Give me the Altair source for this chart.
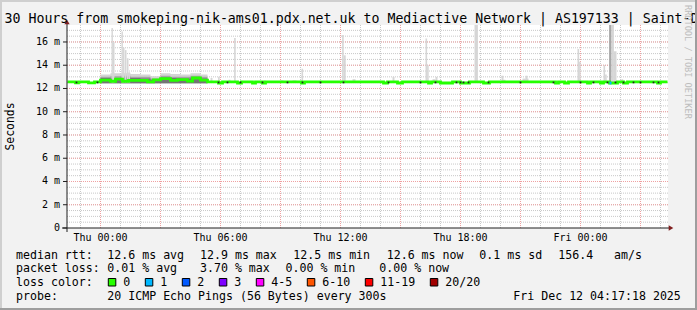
import altair as alt
import pandas as pd

FONT = "DejaVu Sans Mono"

# ---------------- data ----------------
# time axis: hours relative to Thu 00:00 (Dec 11 2025); y axis: milliseconds
x_domain = [-1.675, 28.375]
y_domain = [0, 17.46]

x_tick_hours = [0, 6, 12, 18, 24]
x_tick_labels = ["Thu 00:00", "Thu 06:00", "Thu 12:00", "Thu 18:00", "Fri 00:00"]
y_tick_ms = [0, 2, 4, 6, 8, 10, 12, 14, 16]
y_tick_labels = ["0\u00a0\u00a0", "2 m", "4 m", "6 m", "8 m", "10 m", "12 m", "14 m", "16 m"]
minor_hours = list(range(-1, 29))
major_hours = list(range(0, 29, 3))
minor_ms = [0.5 * i for i in range(1, 35)]
major_ms = [2, 4, 6, 8, 10, 12, 14, 16]

median_t = [-1.65, -1.25, -1.1, -0.6, -0.3, 0.0, 0.5, 0.75, 1.1, 1.4, 2.35, 2.65, 3.0, 3.5,
            3.85, 4.35, 4.6, 5.0, 5.35, 5.9, 6.1, 6.85, 7.05, 7.6, 7.75, 8.1, 8.25, 10.05,
            10.2, 14.15, 14.35, 14.85, 15.1, 16.4, 16.55, 17.0, 17.6, 18.0, 18.45, 19.15,
            19.45, 22.75, 22.9, 23.2, 23.4, 24.35, 24.5, 25.0, 25.15, 25.45, 25.85, 26.15,
            26.35, 27.85, 28.0, 28.35]
median_ms = [12.56, 12.48, 12.56, 12.48, 12.56, 12.72, 12.62, 12.80, 12.62, 12.70, 12.57, 12.74,
             12.84, 12.70, 12.77, 12.63, 12.90, 12.72, 12.56, 12.47, 12.56, 12.47, 12.56, 12.47,
             12.56, 12.47, 12.56, 12.47, 12.56, 12.47, 12.56, 12.47, 12.56, 12.47, 12.56, 12.47,
             12.56, 12.47, 12.56, 12.47, 12.56, 12.47, 12.56, 12.47, 12.56, 12.47, 12.56, 12.47,
             12.56, 12.47, 12.56, 12.47, 12.56, 12.47, 12.56, 12.56]

loss_t0 = [25.45]
loss_t1 = [25.55]
loss_ms = [12.47]
loss_level = [1]

band_t = [0.0, 0.5, 1.0, 1.5, 2.0, 2.5, 3.0, 3.5, 4.0, 4.5, 5.0, 5.35]
band_lo = [12.45, 12.45, 12.45, 12.45, 12.45, 12.45, 12.45, 12.45, 12.45, 12.45, 12.45, 12.45]
band_hi = [13.2, 13.3, 13.3, 13.25, 13.2, 13.05, 13.3, 13.25, 13.2, 13.3, 13.2, 13.2]
band_mid = [13.0, 13.05, 13.1, 13.0, 13.0, 12.85, 13.1, 13.0, 13.0, 13.1, 13.0, 13.0]
band_dark = [12.9, 12.85, 12.95, 12.9, 12.85, 12.75, 12.95, 12.9, 12.85, 12.95, 12.85, 12.85]

spike_t0 = [0.55, 0.62, 1.05, 1.12, 1.22, 1.32, 1.40, 5.88, 6.68, 10.05, 12.08, 12.16, 14.60,
            16.25, 16.33, 16.75, 18.70, 20.05, 21.25, 23.85, 23.93, 25.15, 25.23, 25.43, 25.55,
            25.67, 26.05, 5.5, 6.4, 8.15, 9.0, 9.6, 12.6, 13.65, 16.6, 20.1, 21.1, 24.85, 26.0]
spike_t1 = [0.62, 0.70, 1.12, 1.20, 1.30, 1.40, 1.48, 5.96, 6.76, 10.13, 12.16, 12.26, 14.70,
            16.33, 16.41, 16.85, 18.87, 20.15, 21.35, 23.93, 24.01, 25.23, 25.31, 25.55, 25.67,
            25.80, 26.12, 5.6, 6.5, 8.25, 9.15, 9.8, 12.75, 14.1, 16.75, 20.25, 21.4, 25.35, 26.15]
spike_top = [17.2, 16.0, 16.9, 15.5, 15.3, 14.6, 13.4, 13.0, 16.35, 13.7, 16.6, 14.85, 13.0,
             16.3, 14.0, 13.0, 17.46, 13.1, 13.1, 15.4, 14.3, 14.0, 13.2, 17.46, 17.46,
             15.2, 12.8, 12.9, 12.75, 12.7, 12.7, 12.7, 12.8, 12.65, 12.8, 12.75, 12.85, 12.65, 12.75]
spike_shade = [0] * 23 + [1] + [0] * 15

dot_t = [-1.2, -0.15, 5.9, 6.35, 7.0, 8.1, 9.35, 10.1, 11.0, 12.15, 14.4, 16.0, 16.75, 17.8,
         18.0, 18.15, 18.4, 19.4, 21.0, 22.65, 24.0, 24.65, 25.35, 25.75, 26.15, 26.65, 27.0,
         27.65, 27.9]

title_text = "30 Hours from smokeping-nik-ams01.pdx.net.uk to Mediactive Network | AS197133 | Saint-Denis"
rtt_stats = [12.6, 12.9, 12.5, 12.6]
rtt_sd = 0.1
am_s = 156.4
loss_stats = [0.01, 3.70, 0.00, 0.00]
loss_labels = ["0", "1", "2", "3", "4-5", "6-10", "11-19", "20/20"]
loss_colors = ["#26ff00", "#00b8ff", "#0059ff", "#7e00ff", "#ff00ff", "#ff5500", "#ff0000", "#a10000"]
probe_text = "20 ICMP Echo Pings (56 Bytes) every 300s"
date_text = "Fri Dec 12 04:17:18 2025"

# ---------------- layout ----------------
W, H = 601, 203
OX, OY = 67, 25          # plot origin in page pixels
def px(x): return x - OX
def py(y): return y - OY

xs = alt.Scale(domain=x_domain, nice=False, zero=False)
ys = alt.Scale(domain=y_domain, nice=False, zero=False)

GRID_MINOR = "#C8C8C8"
GRID_MAJOR = "#EFA0A0"
SHADES = ["#D6D6D6", "#A8A8A8"]

def X(f): return alt.X(f, scale=xs, axis=None)
def Y(f): return alt.Y(f, scale=ys, axis=None)

layers = []

# grid
layers.append(alt.Chart(pd.DataFrame({"v": minor_ms})).mark_rule(
    color=GRID_MINOR, strokeDash=[1, 1], strokeWidth=1).encode(
    y=Y("v:Q"), x=alt.value(0), x2=alt.value(W)))
layers.append(alt.Chart(pd.DataFrame({"h": minor_hours})).mark_rule(
    color=GRID_MINOR, strokeDash=[1, 1], strokeWidth=1).encode(
    x=X("h:Q"), y=alt.value(0), y2=alt.value(H)))
layers.append(alt.Chart(pd.DataFrame({"v": major_ms})).mark_rule(
    color=GRID_MAJOR, strokeDash=[1, 1], strokeWidth=1).encode(
    y=Y("v:Q"), x=alt.value(0), x2=alt.value(W)))
layers.append(alt.Chart(pd.DataFrame({"h": major_hours})).mark_rule(
    color=GRID_MAJOR, strokeDash=[1, 1], strokeWidth=1).encode(
    x=X("h:Q"), y=alt.value(0), y2=alt.value(H)))

# smoke band
band = pd.DataFrame({"t": band_t, "lo": band_lo, "hi": band_hi, "mid": band_mid, "dark": band_dark})
layers.append(alt.Chart(band).mark_area(interpolate="step-after", color="#D4D4D4").encode(
    x=X("t:Q"), y=Y("lo:Q"), y2="hi:Q"))
layers.append(alt.Chart(band).mark_area(interpolate="step-after", color="#A4A4A4").encode(
    x=X("t:Q"), y=Y("lo:Q"), y2="mid:Q"))
layers.append(alt.Chart(band).mark_area(interpolate="step-after", color="#747474").encode(
    x=X("t:Q"), y=Y("lo:Q"), y2="dark:Q"))

# spikes
spk = pd.DataFrame({"t0": spike_t0, "t1": spike_t1, "top": spike_top,
                    "base": [12.5] * len(spike_t0),
                    "c": [SHADES[s] for s in spike_shade]})
layers.append(alt.Chart(spk).mark_rect().encode(
    x=X("t0:Q"), x2="t1:Q", y=Y("base:Q"), y2="top:Q",
    color=alt.Color("c:N", scale=None)))

# median
med = pd.DataFrame({"t": median_t, "v": median_ms})
layers.append(alt.Chart(med).mark_line(interpolate="step-after", color=loss_colors[0],
                                       strokeWidth=2.8).encode(x=X("t:Q"), y=Y("v:Q")))
lossdf = pd.DataFrame({"t0": loss_t0, "t1": loss_t1, "v": loss_ms,
                       "c": [loss_colors[i] for i in loss_level]})
layers.append(alt.Chart(lossdf).mark_rule(strokeWidth=2.8).encode(
    x=X("t0:Q"), x2="t1:Q", y=Y("v:Q"), color=alt.Color("c:N", scale=None)))
dots = pd.DataFrame({"t": dot_t, "v": [12.52] * len(dot_t)})
layers.append(alt.Chart(dots).mark_square(size=3, color="#222222", opacity=1).encode(
    x=X("t:Q"), y=Y("v:Q")))

# axes
AXIS = "#1F1F1F"
ARROW = "#801F1F"
layers.append(alt.Chart(pd.DataFrame({"a": [0]})).mark_rule(color=AXIS, strokeWidth=1).encode(
    x=alt.value(0), y=alt.value(-2), y2=alt.value(H + 4)))
layers.append(alt.Chart(pd.DataFrame({"a": [0]})).mark_rule(color=AXIS, strokeWidth=1).encode(
    y=alt.value(H), x=alt.value(-5), x2=alt.value(W + 2)))
layers.append(alt.Chart(pd.DataFrame({"a": [0]})).mark_point(
    shape="triangle-up", size=28, filled=True, color=ARROW, opacity=1).encode(
    x=alt.value(0), y=alt.value(-3)))
layers.append(alt.Chart(pd.DataFrame({"a": [0]})).mark_point(
    shape="triangle-right", size=28, filled=True, color=ARROW, opacity=1).encode(
    x=alt.value(W + 3), y=alt.value(H)))

ytk = pd.DataFrame({"v": y_tick_ms, "lab": y_tick_labels})
layers.append(alt.Chart(ytk).mark_rule(color=AXIS).encode(
    y=Y("v:Q"), x=alt.value(-4), x2=alt.value(0)))
layers.append(alt.Chart(ytk).mark_text(align="right", baseline="middle", font=FONT,
                                       fontSize=10, color="black").encode(
    y=Y("v:Q"), x=alt.value(-7), text="lab:N"))
xtk = pd.DataFrame({"h": x_tick_hours, "lab": x_tick_labels})
layers.append(alt.Chart(xtk).mark_text(align="center", baseline="top", font=FONT,
                                       fontSize=10, color="black").encode(
    x=X("h:Q"), y=alt.value(py(232.5)), text="lab:N"))

# titles
def text_layer(txt, x, y, size, **kw):
    return alt.Chart(pd.DataFrame({"s": [txt]})).mark_text(
        font=FONT, fontSize=size, **kw).encode(
        x=alt.value(px(x)), y=alt.value(py(y)), text="s:N")

layers.append(text_layer(title_text, 4.5, 23, 13.25, align="left", baseline="alphabetic",
                         color="black"))
layers.append(text_layer("Seconds", 10.5, 126.5, 11.4, align="center", baseline="middle",
                         angle=270, color="black"))
layers.append(text_layer("RRDTOOL / TOBI OETIKER", 688, 5, 8.6, align="left",
                         baseline="middle", angle=90, color="#BDBDBD"))

# legend text segments
seg_text, seg_x, seg_y = [], [], []
def seg(t, x, y):
    seg_text.append(t); seg_x.append(px(x)); seg_y.append(py(y))

L1, L2, L3, L4 = 258.5, 272.3, 286, 299.5
seg("median rtt:", 16, L1)
for s, name, x in zip(rtt_stats, ["avg", "max", "min", "now"], [107.3, 200, 293.3, 386.7]):
    seg(f"{s:.1f} ms {name}", x, L1)
seg(f"{rtt_sd:.1f} ms sd", 479.3, L1)
seg(f"{am_s:.1f}", 558.3, L1)
seg("am/s", 614, L1)
seg("packet loss:", 16, L2)
for s, name, x in zip(loss_stats, ["avg", "max", "min", "now"], [107.3, 200, 285.5, 379.3]):
    seg(f"{s:.2f} % {name}", x, L2)
seg("loss color:", 16, L3)
box_x, box_x2 = [], []
pos = 108.3
for lab in loss_labels:
    box_x.append(px(pos)); box_x2.append(px(pos + 7.5))
    seg(lab, pos + 15, L3)
    pos = pos + 15 + len(lab) * 7.0 + 15
seg("probe:", 16, L4)
seg(probe_text, 107.3, L4)
seg(date_text, 513.3, L4)

segdf = pd.DataFrame({"s": seg_text, "x": seg_x, "y": seg_y})
layers.append(alt.Chart(segdf).mark_text(align="left", baseline="alphabetic", font=FONT,
                                         fontSize=11.6, color="black").encode(
    x=alt.X("x:Q", scale=None, axis=None), y=alt.Y("y:Q", scale=None, axis=None), text="s:N"))

boxdf = pd.DataFrame({"x": box_x, "x2": box_x2, "y": [py(278.5)] * len(box_x),
                      "y2": [py(286)] * len(box_x), "c": loss_colors})
layers.append(alt.Chart(boxdf).mark_rect(stroke="black", strokeWidth=1).encode(
    x=alt.X("x:Q", scale=None, axis=None), x2="x2:Q",
    y=alt.Y("y:Q", scale=None, axis=None), y2="y2:Q",
    color=alt.Color("c:N", scale=None)))

# frame shading
def frame(x0, y0, x1, y1, c):
    return alt.Chart(pd.DataFrame({"a": [0]})).mark_rect(color=c).encode(
        x=alt.value(px(x0)), x2=alt.value(px(x1)), y=alt.value(py(y0)), y2=alt.value(py(y1)))

layers.append(frame(0, 0, 697, 2, "#CFCFCF"))
layers.append(frame(0, 0, 2, 310, "#CFCFCF"))
layers.append(frame(0, 308, 697, 310, "#9E9E9E"))
layers.append(frame(695, 0, 697, 310, "#9E9E9E"))

chart = alt.layer(*layers).properties(
    width=W, height=H, autosize="none",
    padding={"left": OX, "top": OY, "right": 697 - OX - W, "bottom": 310 - OY - H},
    background="#F2F2F2",
).configure_view(fill="white", stroke=None)

chart.save("out.html", embed_options={"renderer": "svg", "actions": False})
